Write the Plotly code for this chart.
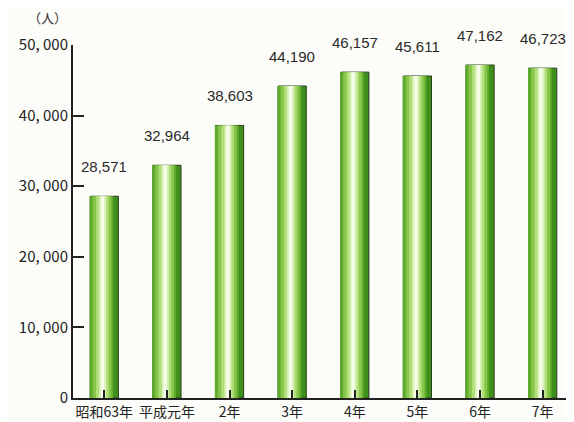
import plotly.graph_objects as go

categories = ["昭和63年", "平成元年", "2年", "3年", "4年", "5年", "6年", "7年"]
values = [28571, 32964, 38603, 44190, 46157, 45611, 47162, 46723]
y_ticks = [0, 10000, 20000, 30000, 40000, 50000]
y_tick_labels = ["0", "10, 000", "20, 000", "30, 000", "40, 000", "50, 000"]

xs = list(range(len(categories)))

fig = go.Figure()

# cylinder-like shading built from overlaid bars (outer to inner)
layers = [
    (0.45, None, "#3f8f1c"),
    (0.38, 0.40, "#5fab2c"),
    (0.30, 0.42, "#86c64a"),
    (0.20, 0.43, "#b2df7c"),
    (0.11, 0.44, "#daf2b8"),
    (0.05, 0.44, "#f6fdea"),
]
full_w = 0.45
for i, (w, c_frac, col) in enumerate(layers):
    kw = dict(x=xs, y=values, width=w, marker_color=col, hoverinfo="skip", showlegend=False)
    if i == 0:
        kw["marker_line"] = dict(color="#2a3a20", width=1)
    else:
        center = -full_w / 2 + c_frac * full_w
        kw["offset"] = center - w / 2
        kw["marker_line_width"] = 0
    fig.add_trace(go.Bar(**kw))

for x, v in zip(xs, values):
    fig.add_annotation(x=x, y=v, text=f"{v:,}", showarrow=False, yanchor="bottom",
                       yshift=19, font=dict(family="Liberation Sans, Arial", size=15, color="#2a2a2a"))

fig.add_annotation(xref="paper", yref="paper", x=-0.05, y=1.078, text="（人）", showarrow=False,
                   xanchor="center", yanchor="middle",
                   font=dict(family="Noto Sans CJK JP", size=13, color="#333"))

fig.update_layout(
    barmode="overlay",
    width=566, height=414,
    margin=dict(l=65, r=0, t=37, b=24),
    paper_bgcolor="#fcfcf8", plot_bgcolor="#fcfcf8",
    showlegend=False,
    xaxis=dict(
        tickmode="array", tickvals=xs, ticktext=categories,
        range=[-0.5, 7.5], showline=True, linecolor="#222", linewidth=2,
        ticks="inside", tickson="boundaries", ticklen=8, tickcolor="#222", tickwidth=2,
        showgrid=False, zeroline=False,
        tickfont=dict(family="Noto Sans CJK JP", size=14, color="#222"),
    ),
    yaxis=dict(
        range=[0, 50000], tickmode="array", tickvals=y_ticks, ticktext=y_tick_labels,
        showline=True, linecolor="#222", linewidth=2,
        ticks="inside", ticklen=11, tickcolor="#222", tickwidth=2,
        showgrid=False, zeroline=False,
        tickfont=dict(family="Noto Sans CJK JP", size=15, color="#222"),
    ),
)

fig.write_html("out.html")
